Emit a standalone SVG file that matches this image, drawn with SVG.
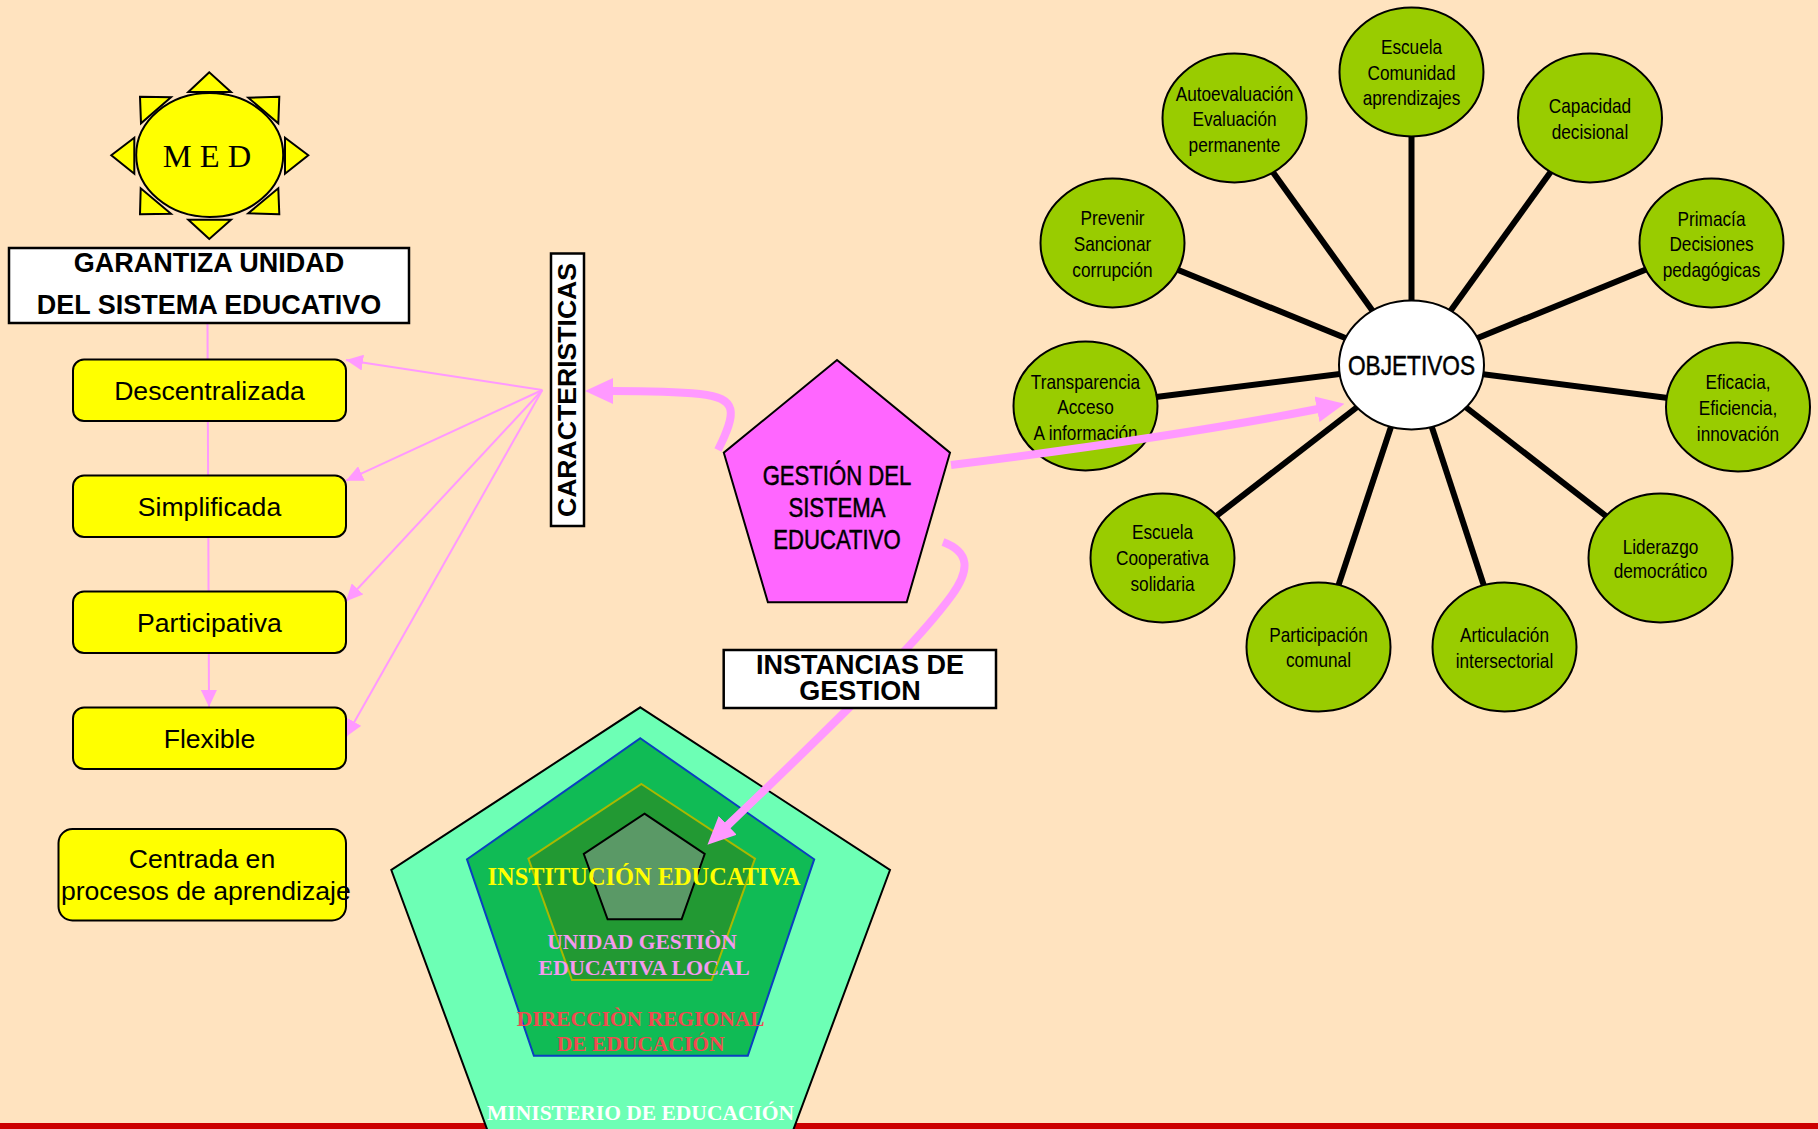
<svg xmlns="http://www.w3.org/2000/svg" width="1818" height="1129" viewBox="0 0 1818 1129">
<style>
.n{font-family:"Liberation Sans",Arial,sans-serif;font-size:21px;text-anchor:middle;fill:#000}
.l{font-size:27px;stroke:#000;stroke-width:.5}
.e{fill:#99CC00;stroke:#000;stroke-width:2}
.y{fill:#FFFF00;stroke:#000;stroke-width:2}
.b{fill:#fff;stroke:#000;stroke-width:2.5}
.t{font-family:"Liberation Sans",Arial,sans-serif;font-size:26.6px;text-anchor:middle;fill:#000}
.bd{font-weight:700}
.s{font-family:"Liberation Serif","Times New Roman",serif;font-weight:700;text-anchor:middle;font-size:21.5px}
.sp{stroke:#000;stroke-width:6;fill:none}
.pk{stroke:#FF99FF;stroke-width:2;fill:none}
.big{stroke:#FF99FF;stroke-width:8;fill:none}
</style>
<defs>
<marker id="thin" markerUnits="userSpaceOnUse" markerWidth="18" markerHeight="16" refX="17" refY="8" orient="auto"><path d="M0,0L17,8L0,16Z" fill="#FF99FF"/></marker>
<marker id="thick" markerUnits="userSpaceOnUse" markerWidth="28" markerHeight="28" refX="1" refY="14" orient="auto"><path d="M0,1L28,14L0,27Z" fill="#FF99FF"/></marker>
</defs>
<rect width="1818" height="1129" fill="#FFE3BF"/>
<rect y="1123" width="1818" height="6" fill="#CC0000"/>

<g id="ministerio"><polygon points="640.3,707.3 890,870 793.6,1129 786,1150 495,1150 487,1129 391.3,870" fill="#6DFFB5" stroke="#000" stroke-width="2"/></g>
<g id="direccion"><polygon points="640.3,738.3 814.2,859.3 747.8,1055.7 533.9,1055.7 467,859.3" fill="#10BB55" stroke="#0A3FC0" stroke-width="2"/></g>
<g id="ugel"><polygon points="641.4,784 755,858.7 711.6,980 572,980 528.4,858.7" fill="#229933" stroke="#AAB800" stroke-width="2"/></g>
<g id="institucion"><polygon points="644.5,813.7 704.7,854 681.6,919.3 607.6,919.3 583.8,854" fill="#5A9966" stroke="#000" stroke-width="2"/></g>
<g id="transparencia"><ellipse class="e" cx="1085.5" cy="406" rx="72" ry="64.5"/><text class="n" transform="matrix(.82 0 0 1 1085.5 389)">Transparencia</text><text class="n" transform="matrix(.82 0 0 1 1085.5 414)">Acceso</text><text class="n" transform="matrix(.82 0 0 1 1085.5 440)">A información</text></g>
<g id="gestion"><polygon points="837,360 950,452.7 906.7,602.3 767.9,602.3 723.8,452.7" fill="#FF66FF" stroke="#000" stroke-width="2"/><text class="n l" transform="matrix(.82 0 0 1 837 485)">GESTIÓN DEL</text><text class="n l" transform="matrix(.82 0 0 1 837 517)">SISTEMA</text><text class="n l" transform="matrix(.82 0 0 1 837 549)">EDUCATIVO</text></g>

<g id="connectors">
<path class="sp" d="M1411.5,365L1411.5,72"/><path class="sp" d="M1411.5,365L1589.5,118"/><path class="sp" d="M1411.5,365L1711,243"/><path class="sp" d="M1411.5,365L1738,407"/><path class="sp" d="M1411.5,365L1660,558"/><path class="sp" d="M1411.5,365L1504,647"/><path class="sp" d="M1411.5,365L1318,647"/><path class="sp" d="M1411.5,365L1162,558"/><path class="sp" d="M1411.5,365L1156,397"/><path class="sp" d="M1411.5,365L1112,243"/><path class="sp" d="M1411.5,365L1234,118"/>
<path class="pk" d="M207.5,323L209,707" marker-end="url(#thin)"/>
<path class="pk" d="M542.3,390L346,360" marker-end="url(#thin)"/>
<path class="pk" d="M542.3,390L346,480.7" marker-end="url(#thin)"/>
<path class="pk" d="M542.3,390L346,601.3" marker-end="url(#thin)"/>
<path class="pk" d="M542.3,390L346,736.7" marker-end="url(#thin)"/>
<path class="big" d="M718,450C737,412 738,398 700,394C670,391 640,391 612,391" marker-end="url(#thick)"/>
<path class="big" d="M951,465C1080,449 1200,432 1318,409" marker-end="url(#thick)"/>
<path class="big" d="M943,542C970,552 970,570 952,595C925,632 880,680 727,826" marker-end="url(#thick)"/>
</g>

<g id="instancias-box"><rect class="b" x="723.7" y="650" width="272.3" height="58"/><text class="t bd" style="font-size:27px" x="860" y="674">INSTANCIAS DE</text><text class="t bd" style="font-size:27px" x="860" y="700">GESTION</text></g>
<g id="ministerio-label"><text class="s" fill="#fff" x="640.6" y="1120">MINISTERIO DE EDUCACIÓN</text></g>
<g id="direccion-label"><text class="s" fill="#F04B50" x="640.6" y="1026">DIRECCIÒN REGIONAL</text><text class="s" fill="#F04B50" x="640.6" y="1051">DE EDUCACIÓN</text></g>
<g id="ugel-label"><text class="s" fill="#F49AEE" x="642" y="949">UNIDAD GESTIÒN</text><text class="s" fill="#F49AEE" style="font-size:22px" x="644" y="975">EDUCATIVA LOCAL</text></g>
<g id="institucion-label"><text class="s" fill="#FFFF00" style="font-size:24.4px" x="644" y="885">INSTITUCIÓN EDUCATIVA</text></g>

<g id="med">
<polygon class="y" points="209.3,72.3 188.3,92 231,92"/><polygon class="y" points="140,96.7 171,97.3 141,123.3"/><polygon class="y" points="279.3,96.7 248.3,97.7 278.3,123.3"/><polygon class="y" points="111.3,155.3 134.3,137.7 134.3,173.7"/><polygon class="y" points="308.3,155.3 285,137.7 285,173.7"/><polygon class="y" points="140,214.3 171,213.7 140.7,188.3"/><polygon class="y" points="279.3,214.3 248.3,213.3 278.3,188.3"/><polygon class="y" points="209.3,239 188.3,219.7 231,219.7"/>
<ellipse class="y" cx="209.7" cy="155" rx="73.5" ry="62"/>
<text x="207" y="167" font-family="Liberation Serif,Times New Roman,serif" font-size="32.5" text-anchor="middle">M E D</text>
</g>
<g id="garantiza"><rect class="b" x="9" y="248" width="400" height="75"/><text class="t bd" style="font-size:27px" x="209" y="272">GARANTIZA UNIDAD</text><text class="t bd" style="font-size:27px" x="209" y="314">DEL SISTEMA EDUCATIVO</text></g>
<g id="descentralizada"><rect class="y" x="73" y="359.5" width="273" height="61.5" rx="11"/><text class="t" x="209.5" y="400">Descentralizada</text></g>
<g id="simplificada"><rect class="y" x="73" y="475.5" width="273" height="61.5" rx="11"/><text class="t" x="209.5" y="516">Simplificada</text></g>
<g id="participativa"><rect class="y" x="73" y="591.5" width="273" height="61.5" rx="11"/><text class="t" x="209.5" y="632">Participativa</text></g>
<g id="flexible"><rect class="y" x="73" y="707.5" width="273" height="61.5" rx="11"/><text class="t" x="209.5" y="748">Flexible</text></g>
<g id="centrada"><rect class="y" x="58.5" y="829" width="287.5" height="91.5" rx="14"/><text class="t" x="202" y="868">Centrada en</text><text class="t" x="205.8" y="900">procesos de aprendizaje</text></g>
<g id="caracteristicas"><rect class="b" x="551" y="253.5" width="33" height="272.5"/><text class="t bd" transform="translate(576,390) rotate(-90)" x="0" y="0">CARACTERISTICAS</text></g>

<g id="objetivos"><ellipse cx="1411.5" cy="365" rx="72.5" ry="64.5" fill="#fff" stroke="#000" stroke-width="2"/><text class="n l" transform="matrix(.84 0 0 1 1411.5 375)">OBJETIVOS</text></g>
<g id="escuela-comunidad"><ellipse class="e" cx="1411.5" cy="72" rx="72" ry="64.5"/><text class="n" transform="matrix(.82 0 0 1 1411.5 54)">Escuela</text><text class="n" transform="matrix(.82 0 0 1 1411.5 80)">Comunidad</text><text class="n" transform="matrix(.82 0 0 1 1411.5 105)">aprendizajes</text></g>
<g id="capacidad"><ellipse class="e" cx="1590" cy="118" rx="72" ry="64.5"/><text class="n" transform="matrix(.82 0 0 1 1590 113)">Capacidad</text><text class="n" transform="matrix(.82 0 0 1 1590 139)">decisional</text></g>
<g id="primacia"><ellipse class="e" cx="1711.5" cy="243" rx="72" ry="64.5"/><text class="n" transform="matrix(.82 0 0 1 1711.5 226)">Primacía</text><text class="n" transform="matrix(.82 0 0 1 1711.5 251)">Decisiones</text><text class="n" transform="matrix(.82 0 0 1 1711.5 277)">pedagógicas</text></g>
<g id="eficacia"><ellipse class="e" cx="1738" cy="407" rx="72" ry="64.5"/><text class="n" transform="matrix(.82 0 0 1 1738 389)">Eficacia,</text><text class="n" transform="matrix(.82 0 0 1 1738 415)">Eficiencia,</text><text class="n" transform="matrix(.82 0 0 1 1738 441)">innovación</text></g>
<g id="liderazgo"><ellipse class="e" cx="1660.5" cy="558" rx="72" ry="64.5"/><text class="n" transform="matrix(.82 0 0 1 1660.5 554)">Liderazgo</text><text class="n" transform="matrix(.82 0 0 1 1660.5 578)">democrático</text></g>
<g id="articulacion"><ellipse class="e" cx="1504.5" cy="647" rx="72" ry="64.5"/><text class="n" transform="matrix(.82 0 0 1 1504.5 642)">Articulación</text><text class="n" transform="matrix(.82 0 0 1 1504.5 668)">intersectorial</text></g>
<g id="participacion"><ellipse class="e" cx="1318.5" cy="647" rx="72" ry="64.5"/><text class="n" transform="matrix(.82 0 0 1 1318.5 642)">Participación</text><text class="n" transform="matrix(.82 0 0 1 1318.5 667)">comunal</text></g>
<g id="escuela-cooperativa"><ellipse class="e" cx="1162.5" cy="558" rx="72" ry="64.5"/><text class="n" transform="matrix(.82 0 0 1 1162.5 539)">Escuela</text><text class="n" transform="matrix(.82 0 0 1 1162.5 565)">Cooperativa</text><text class="n" transform="matrix(.82 0 0 1 1162.5 591)">solidaria</text></g>
<g id="prevenir"><ellipse class="e" cx="1112.5" cy="243" rx="72" ry="64.5"/><text class="n" transform="matrix(.82 0 0 1 1112.5 225)">Prevenir</text><text class="n" transform="matrix(.82 0 0 1 1112.5 251)">Sancionar</text><text class="n" transform="matrix(.82 0 0 1 1112.5 277)">corrupción</text></g>
<g id="autoevaluacion"><ellipse class="e" cx="1234.5" cy="118" rx="72" ry="64.5"/><text class="n" transform="matrix(.82 0 0 1 1234.5 101)">Autoevaluación</text><text class="n" transform="matrix(.82 0 0 1 1234.5 126)">Evaluación</text><text class="n" transform="matrix(.82 0 0 1 1234.5 152)">permanente</text></g>
</svg>
